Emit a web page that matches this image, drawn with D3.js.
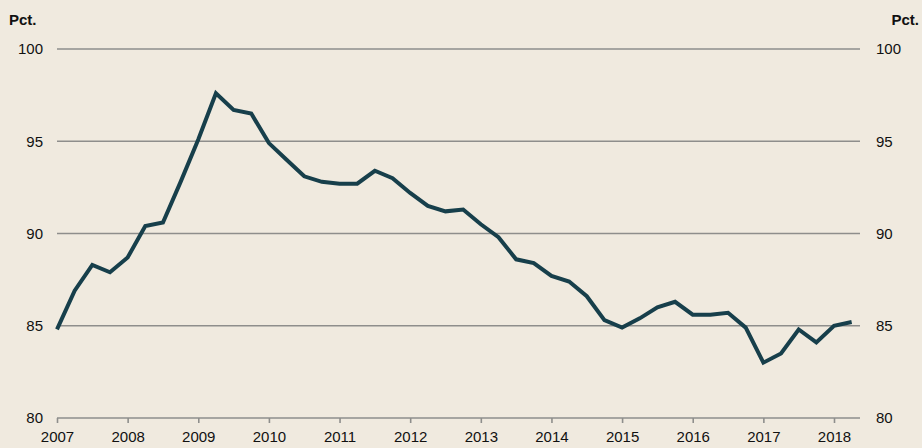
<!DOCTYPE html>
<html>
<head>
<meta charset="utf-8">
<script src="https://cdnjs.cloudflare.com/ajax/libs/d3/7.8.5/d3.min.js"></script>
<style>
	html, body { margin: 0; padding: 0; background: #f0eadf; }
	svg { display: block; font-family: "Liberation Sans", Arial, sans-serif; }
</style>
</head>
<body>
<svg id="chart" width="922" height="448"></svg>
<script>
// quarterly values, 2007 Q1 .. 2018 Q2
var startYear = 2007;
var values = [
	84.8, 86.9, 88.3, 87.9, 88.7, 90.4, 90.6, 92.8,
	95.1, 97.6, 96.7, 96.5, 94.9, 94.0, 93.1, 92.8,
	92.7, 92.7, 93.4, 93.0, 92.2, 91.5, 91.2, 91.3,
	90.5, 89.8, 88.6, 88.4, 87.7, 87.4, 86.6, 85.3,
	84.9, 85.4, 86.0, 86.3, 85.6, 85.6, 85.7, 84.9,
	83.0, 83.5, 84.8, 84.1, 85.0, 85.2
];
var yTicks = [80, 85, 90, 95, 100];
var xTicks = [2007, 2008, 2009, 2010, 2011, 2012, 2013, 2014, 2015, 2016, 2017, 2018];
var unitLabel = "Pct.";

(function(){
	var svg = d3.select("#chart");
	var m = { left: 57, right: 860, top: 49, bottom: 418 };

	// year as a decimal, one point per quarter
	var data = values.map(function(v, i){
		return { t: startYear + i / 4, v: v };
	});

	var x = d3.scaleLinear().domain([2007, 2018]).range([m.left, 834]);
	var y = d3.scaleLinear().domain([80, 100]).range([m.bottom, m.top]);

	// grid lines
	svg.append("g")
		.selectAll("line")
		.data(yTicks)
		.enter().append("line")
			.attr("x1", m.left)
			.attr("x2", m.right)
			.attr("y1", function(d){ return y(d); })
			.attr("y2", function(d){ return y(d); })
			.attr("stroke", "#8e8e8c")
			.attr("stroke-width", 1.6);

	// left and right y labels
	function yLabels(g, xpos, anchor){
		g.selectAll("text")
			.data(yTicks)
			.enter().append("text")
				.attr("x", xpos)
				.attr("y", function(d){ return y(d); })
				.attr("dy", "0.36em")
				.attr("text-anchor", anchor)
				.attr("font-size", 15)
				.attr("fill", "#111")
				.text(function(d){ return d; });
	}
	svg.append("g").call(yLabels, 43, "end");
	svg.append("g").call(yLabels, 876, "start");

	svg.append("text")
		.attr("x", 9).attr("y", 25)
		.attr("font-size", 15).attr("font-weight", "bold")
		.attr("fill", "#111")
		.text(unitLabel);
	svg.append("text")
		.attr("x", 919).attr("y", 25)
		.attr("text-anchor", "end")
		.attr("font-size", 15).attr("font-weight", "bold")
		.attr("fill", "#111")
		.text(unitLabel);

	// x axis
	var xAxis = d3.axisBottom(x)
		.tickValues(xTicks)
		.tickFormat(d3.format("d"))
		.tickSizeInner(5)
		.tickSizeOuter(0)
		.tickPadding(8);

	var gx = svg.append("g")
		.attr("transform", "translate(0," + m.bottom + ")")
		.call(xAxis);
	gx.select(".domain").remove();
	gx.selectAll(".tick line")
		.attr("stroke", "#8e8e8c")
		.attr("stroke-width", 1.6);
	gx.selectAll("text")
		.attr("font-size", 15)
		.attr("fill", "#111")
		.attr("font-family", "Liberation Sans, Arial, sans-serif");

	// main line
	var line = d3.line()
		.x(function(d){ return x(d.t); })
		.y(function(d){ return y(d.v); });

	svg.append("path")
		.datum(data)
		.attr("d", line)
		.attr("fill", "none")
		.attr("stroke", "#173f4b")
		.attr("stroke-width", 4)
		.attr("stroke-linejoin", "miter");
})();
</script>
</body>
</html>
